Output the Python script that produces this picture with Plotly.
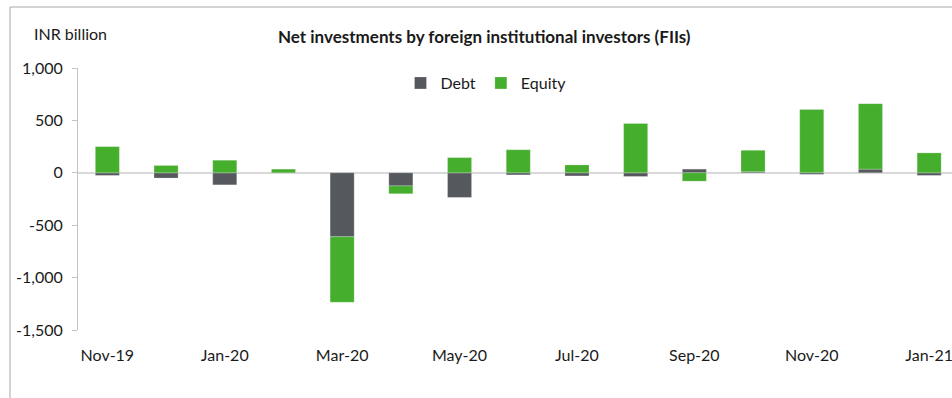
import plotly.graph_objects as go

# Monthly net FII flows, INR billion
months = ["Nov-19", "Dec-19", "Jan-20", "Feb-20", "Mar-20", "Apr-20", "May-20",
          "Jun-20", "Jul-20", "Aug-20", "Sep-20", "Oct-20", "Nov-20", "Dec-20", "Jan-21"]
debt = [-25, -50, -115, -3, -610, -125, -235, -20, -30, -35, 35, 10, -15, 35, -25]
equity = [250, 70, 120, 35, -625, -75, 145, 220, 75, 470, -80, 205, 605, 625, 190]

y_tick_vals = [-1500, -1000, -500, 0, 500, 1000]
y_tick_text = ["-1,500", "-1,000", "-500", "0", "500", "1,000"]
x_tick_vals = months[::2]

W, H = 952, 398
ML, MR, MT, MB = 78, 0, 68, 68
PW, PH = W - ML - MR, H - MT - MB

FONT = "Lato"
TXT = "#1a1a1a"
DEBT_C = "#55585d"
EQ_C = "#45ae2d"
FRAME_C = "#c4c4c4"


def px_x(x):
    return (x - ML) / PW


def px_y(y):
    return (H - MB - y) / PH


fig = go.Figure()
fig.add_trace(go.Bar(x=months, y=debt, name="Debt", marker_color=DEBT_C,
                     marker_line=dict(color="rgba(255,255,255,0.4)", width=0.6), width=0.41))
fig.add_trace(go.Bar(x=months, y=equity, name="Equity", marker_color=EQ_C,
                     marker_line=dict(color="rgba(255,255,255,0.4)", width=0.6), width=0.41))

fig.update_layout(
    width=W, height=H,
    margin=dict(l=ML, r=MR, t=MT, b=MB, autoexpand=False),
    paper_bgcolor="white", plot_bgcolor="white",
    barmode="relative",
    font=dict(family=FONT, size=16, color=TXT),
    showlegend=True,
    legend=dict(orientation="h", x=px_x(486), y=px_y(83), xanchor="center", yanchor="middle",
                font=dict(size=16, color=TXT), itemwidth=30, traceorder="normal",
                bgcolor="rgba(0,0,0,0)"),
    xaxis=dict(type="category", range=[-0.5, -0.5 + PW / 58.7], tickmode="array",
               tickvals=x_tick_vals, ticktext=x_tick_vals, showline=False, showgrid=False,
               zeroline=False, ticks="", ticklabelstandoff=14, automargin=False,
               tickfont=dict(size=16, color=TXT)),
    yaxis=dict(range=[-1500, 1000], tickmode="array", tickvals=y_tick_vals, ticktext=y_tick_text,
               showline=True, linecolor=FRAME_C, linewidth=1, ticks="outside", ticklen=5,
               tickcolor=FRAME_C, showgrid=False, zeroline=True, zerolinecolor="#d9d9d9",
               zerolinewidth=2, ticklabelstandoff=6, automargin=False,
               tickfont=dict(size=16, color=TXT)),
    annotations=[
        dict(text="<b>Net investments by foreign institutional investors (FIIs)</b>",
             xref="paper", yref="paper", x=px_x(484), y=px_y(37), xanchor="center",
             yanchor="middle", showarrow=False, font=dict(size=17, color=TXT)),
        dict(text="INR billion", xref="paper", yref="paper", x=px_x(32), y=px_y(34),
             xanchor="left", yanchor="middle", showarrow=False, font=dict(size=16, color=TXT)),
    ],
    shapes=[
        dict(type="line", xref="paper", yref="paper", x0=px_x(10), x1=px_x(W + 5),
             y0=px_y(7), y1=px_y(7), line=dict(color=FRAME_C, width=1.5)),
        dict(type="line", xref="paper", yref="paper", x0=px_x(10), x1=px_x(10),
             y0=px_y(7), y1=px_y(H + 5), line=dict(color=FRAME_C, width=1.5)),
    ],
)

fig.write_html("out.html")
